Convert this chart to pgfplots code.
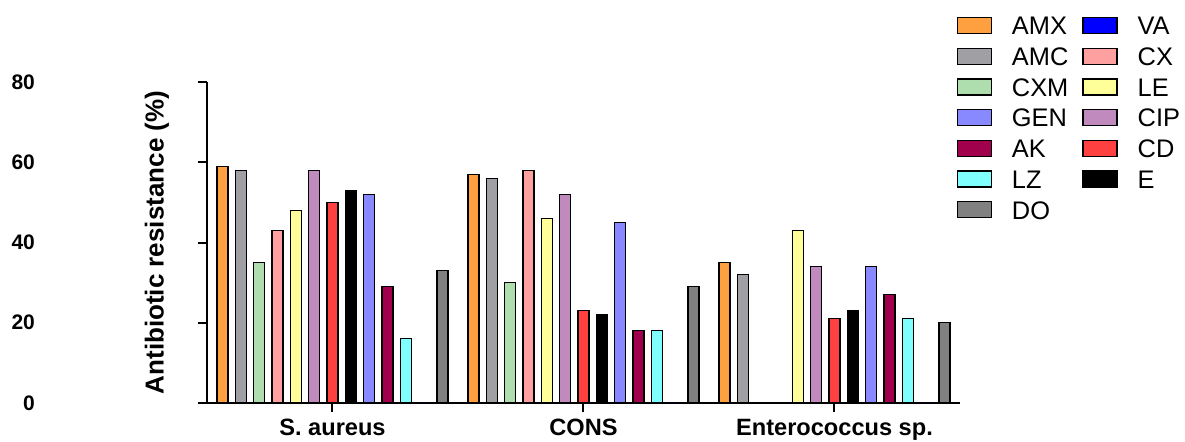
\documentclass[border=0pt]{standalone}
\usepackage{fontspec}
\setmainfont{Liberation Sans}
\usepackage{pgfplots}
\pgfplotsset{compat=1.18}
\definecolor{cAMX}{RGB}{255,160,64}
\definecolor{cAMC}{RGB}{160,160,164}
\definecolor{cCXM}{RGB}{174,222,174}
\definecolor{cGEN}{RGB}{136,136,255}
\definecolor{cAK}{RGB}{160,0,76}
\definecolor{cLZ}{RGB}{128,255,255}
\definecolor{cDO}{RGB}{128,128,128}
\definecolor{cVA}{RGB}{0,0,255}
\definecolor{cCX}{RGB}{255,160,160}
\definecolor{cLE}{RGB}{255,255,153}
\definecolor{cCIP}{RGB}{192,138,190}
\definecolor{cCD}{RGB}{255,64,64}
\definecolor{cE}{RGB}{0,0,0}
\begin{document}
\begin{tikzpicture}
\useasboundingbox (-103.5pt,-19pt) rectangle (489pt,201.5pt);
\begin{axis}[
  at={(0,0)}, anchor=south west,
  scale only axis, width=376.5pt, height=160.5pt,
  ybar, bar width=5.5pt,
  xmin=-0.5, xmax=2.5, ymin=0, ymax=80,
  axis lines=left, axis line style={line width=1pt, -},
  xtick={0,1,2}, xticklabels={S. aureus, CONS, Enterococcus sp.},
  ytick={0,20,40,60,80},
  tick align=outside, major tick length=4.5pt,
  tick style={line width=1pt, black},
  xticklabel style={font=\bfseries\fontsize{11.8}{13}\selectfont},
  yticklabel style={font=\bfseries\fontsize{10.5}{12}\selectfont, xshift=-78pt},
  /pgf/number format/assume math mode=true,
  ylabel={Antibiotic resistance (\%)},
  every axis y label/.style={at={(axis description cs:-0.0664,0.5)}, rotate=90, anchor=center, font=\bfseries\fontsize{13}{15}\selectfont},
  legend columns=2,
  legend cell align=left,
  legend style={at={(axis description cs:0.995,1.218)}, anchor=north west, draw=none, fill=none, inner sep=0pt,
    font=\fontsize{12.7}{14}\selectfont, row sep=2.15pt,
    nodes={inner sep=2pt, text height=9.2pt, text depth=0pt},
    /tikz/every even column/.append style={column sep=5pt}},
  legend image code/.code={\draw[#1] (0pt,-4pt) rectangle (17pt,4pt); \path (25pt,0pt);},
  every axis plot/.append style={draw=black, line width=0.65pt},
]
% slot order: AMX AMC CXM CX LE CIP CD E GEN AK LZ VA DO
\addplot[fill=cAMX, bar shift=-55pt] coordinates {(0,59) (1,57) (2,35)};
\addlegendentry{AMX}
\addplot[fill=cVA, draw=none, bar shift=45.83pt] coordinates {(0,0) (1,0) (2,0)};
\addlegendentry{VA}
\addplot[fill=cAMC, bar shift=-45.83pt] coordinates {(0,58) (1,56) (2,32)};
\addlegendentry{AMC}
\addplot[fill=cCX, bar shift=-27.5pt] coordinates {(0,43) (1,58) (2,0)};
\addlegendentry{CX}
\addplot[fill=cCXM, bar shift=-36.67pt] coordinates {(0,35) (1,30) (2,0)};
\addlegendentry{CXM}
\addplot[fill=cLE, bar shift=-18.33pt] coordinates {(0,48) (1,46) (2,43)};
\addlegendentry{LE}
\addplot[fill=cGEN, bar shift=18.33pt] coordinates {(0,52) (1,45) (2,34)};
\addlegendentry{GEN}
\addplot[fill=cCIP, bar shift=-9.17pt] coordinates {(0,58) (1,52) (2,34)};
\addlegendentry{CIP}
\addplot[fill=cAK, bar shift=27.5pt] coordinates {(0,29) (1,18) (2,27)};
\addlegendentry{AK}
\addplot[fill=cCD, bar shift=0pt] coordinates {(0,50) (1,23) (2,21)};
\addlegendentry{CD}
\addplot[fill=cLZ, bar shift=36.67pt] coordinates {(0,16) (1,18) (2,21)};
\addlegendentry{LZ}
\addplot[fill=cE, bar shift=9.17pt] coordinates {(0,53) (1,22) (2,23)};
\addlegendentry{E}
\addplot[fill=cDO, bar shift=55pt] coordinates {(0,33) (1,29) (2,20)};
\addlegendentry{DO}
\end{axis}
\end{tikzpicture}
\end{document}
